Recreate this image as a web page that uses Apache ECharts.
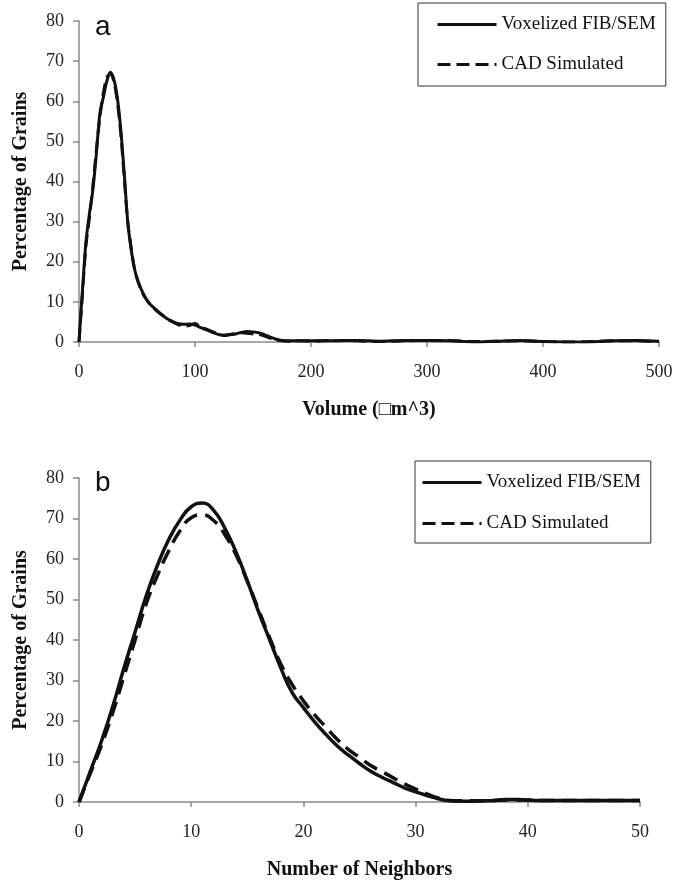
<!DOCTYPE html>
<html>
<head>
<meta charset="utf-8">
<script src="https://cdn.jsdelivr.net/npm/echarts@6/dist/echarts.min.js"></script>
<style>
    html, body { margin: 0; padding: 0; background: #fff; }
    #grains { width: 677px; height: 881px; }
</style>
</head>
<body>
<div id="grains"></div>
<script>
    // panel a: grain volume distribution
    var volX = [0, 3, 6, 9, 12, 15, 18, 21, 24, 27, 30, 33, 36, 39, 42, 45, 48, 51,
        55, 60, 65, 70, 75, 80, 85, 90, 95, 100, 105, 110, 115, 120, 125, 130, 135, 140,
        145, 150, 155, 160, 165, 170, 175, 180, 190, 200, 220, 240, 260, 280, 300, 320,
        340, 360, 380, 400, 420, 440, 460, 480, 500];
    var volFib = [0, 13, 25, 32, 38, 47, 57, 61, 65, 67.2, 65.5, 61, 53, 42, 30, 23, 18, 15,
        12.3, 9.8, 8.4, 7.2, 6, 5.2, 4.6, 4.4, 4.5, 4.2, 3.6, 3, 2.4, 1.9, 1.6, 1.8, 2.0, 2.4,
        2.6, 2.5, 2.3, 1.8, 1.2, 0.7, 0.4, 0.3, 0.3, 0.3, 0.3, 0.4, 0.2, 0.4, 0.4, 0.3,
        0, 0.2, 0.4, 0.1, 0, 0, 0.3, 0.4, 0.2];
    var volCad = [0, 12, 24, 31, 39, 48, 56, 62, 66, 66.8, 65, 60, 52, 41, 30, 23.5, 18, 15,
        12, 9.9, 8.3, 7, 6.1, 5.1, 4.4, 3.9, 4.1, 4.6, 3.7, 3.2, 2.6, 2.0, 1.7, 1.9, 2.1, 2.3,
        2.2, 2.0, 1.9, 1.5, 0.9, 0.5, 0.3, 0.2, 0.3, 0.2, 0.4, 0.3, 0.1, 0.3, 0.4, 0.4,
        0.1, 0.2, 0.3, 0.1, 0, 0.1, 0.3, 0.3, 0.1];

    // panel b: number of neighbors distribution
    var nbX = [0, 1, 2, 3, 4, 5, 6, 7, 8, 9, 10, 11, 12, 13, 14, 15, 16, 17, 18, 19, 20,
        21, 22, 23, 24, 25, 26, 27, 28, 29, 30, 31, 32, 33, 34, 35, 36, 37, 38, 39, 40,
        41, 42, 43, 44, 45, 46, 47, 48, 49, 50];
    var nbFib = [0, 7.5, 15, 23.5, 33, 42, 51, 58.5, 64.8, 69.6,
        72.9, 73.8, 72, 67.6, 61.7, 54.6, 47, 40, 33, 27,
        23.3, 19.8, 16.7, 13.9, 11.6, 9.5, 7.6, 6.1, 4.8, 3.5,
        2.5, 1.6, 0.8, 0.3, 0.2, 0.2, 0.3, 0.4, 0.6, 0.6,
        0.5, 0.4, 0.4, 0.4, 0.4, 0.4, 0.4, 0.4, 0.4, 0.4, 0.4];
    var nbCad = [0, 7, 14, 22, 31, 40, 49, 56, 62, 67,
        70.2, 70.9, 69.5, 66, 61, 54.5, 47.5, 40.5, 34, 29,
        25, 21.5, 18.5, 15.5, 13, 11, 9, 7.5, 6, 4.5,
        3.2, 2, 1, 0.4, 0.3, 0.3, 0.3, 0.4, 0.5, 0.5,
        0.5, 0.4, 0.4, 0.4, 0.4, 0.4, 0.4, 0.4, 0.4, 0.4, 0.4];

    var yTicks = [0, 80, 10];
    var volTicks = [0, 500, 100];
    var nbTicks = [0, 50, 10];

    var serif = "'Liberation Serif', 'Times New Roman', serif";

    function pairs(xs, ys) {
        return xs.map(function (x, i) { return [x, ys[i]]; });
    }

    function makeX(idx, ticks, name) {
        return {
            gridIndex: idx,
            type: 'value',
            min: ticks[0],
            max: ticks[1],
            interval: ticks[2],
            name: name,
            nameLocation: 'middle',
            nameGap: 58,
            nameTextStyle: {color: '#111', fontFamily: serif, fontSize: 20, fontWeight: 'bold'},
            axisLine: {lineStyle: {color: '#8a8a8a', width: 1.5}},
            axisTick: {show: true, length: 5, lineStyle: {color: '#8a8a8a', width: 1.5}},
            axisLabel: {color: '#222', fontFamily: serif, fontSize: 18, margin: 21},
            splitLine: {show: false}
        };
    }

    function makeY(idx) {
        return {
            gridIndex: idx,
            type: 'value',
            min: yTicks[0],
            max: yTicks[1],
            interval: yTicks[2],
            name: 'Percentage of Grains',
            nameLocation: 'middle',
            nameGap: 48,
            nameTextStyle: {color: '#111', fontFamily: serif, fontSize: 20, fontWeight: 'bold'},
            axisLine: {show: true, lineStyle: {color: '#8a8a8a', width: 1.5}},
            axisTick: {show: true, length: 6, lineStyle: {color: '#8a8a8a', width: 1.5}},
            axisLabel: {color: '#222', fontFamily: serif, fontSize: 18, margin: 15},
            splitLine: {show: false}
        };
    }

    function makeLegend(left, top, pad, gap) {
        return {
            orient: 'vertical',
            left: left,
            top: top,
            padding: pad,
            itemGap: gap,
            itemWidth: 59,
            itemHeight: 14,
            borderColor: '#333',
            borderWidth: 1,
            itemStyle: {opacity: 0},   // hide the dot, keep only the line sample
            lineStyle: {width: 3},
            textStyle: {color: '#111', fontFamily: serif, fontSize: 19},
            data: ['Voxelized FIB/SEM', 'CAD Simulated']
        };
    }

    var chart = echarts.init(document.getElementById('grains'));
    var option = {
        backgroundColor: '#fff',
        animation: false,
        title: [
            {text: 'a', left: 90, top: 8, textStyle: {fontFamily: "'Liberation Sans', Arial, sans-serif", fontSize: 28, fontWeight: 'normal', color: '#111'}},
            {text: 'b', left: 90, top: 464, textStyle: {fontFamily: "'Liberation Sans', Arial, sans-serif", fontSize: 28, fontWeight: 'normal', color: '#111'}}
        ],
        legend: [
            makeLegend(418, 3, [12, 10, 12, 18], 21),
            makeLegend(415, 461, [12, 10, 10, 6], 22)
        ],
        grid: [
            {left: 79, top: 21, width: 580, height: 321},
            {left: 79, top: 478, width: 561, height: 325}
        ],
        xAxis: [
            makeX(0, volTicks, 'Volume (\u25A1m^3)'),
            makeX(1, nbTicks, 'Number of Neighbors')
        ],
        yAxis: [makeY(0), makeY(1)],
        series: [
            {
                name: 'Voxelized FIB/SEM', type: 'line', xAxisIndex: 0, yAxisIndex: 0,
                data: pairs(volX, volFib), symbol: 'none', smooth: 0.3,
                lineStyle: {color: '#111', width: 3}, itemStyle: {color: '#111'}
            },
            {
                name: 'CAD Simulated', type: 'line', xAxisIndex: 0, yAxisIndex: 0,
                data: pairs(volX, volCad), symbol: 'none', smooth: 0.3,
                lineStyle: {color: '#111', width: 3, type: [13, 6]}, itemStyle: {color: '#111'}
            },
            {
                name: 'Voxelized FIB/SEM', type: 'line', xAxisIndex: 1, yAxisIndex: 1,
                data: pairs(nbX, nbFib), symbol: 'none', smooth: 0.5,
                lineStyle: {color: '#111', width: 3.5}, itemStyle: {color: '#111'}
            },
            {
                name: 'CAD Simulated', type: 'line', xAxisIndex: 1, yAxisIndex: 1,
                data: pairs(nbX, nbCad), symbol: 'none', smooth: 0.5,
                lineStyle: {color: '#111', width: 3.5, type: [15, 8]}, itemStyle: {color: '#111'}
            }
        ]
    };
    chart.setOption(option);
</script>
</body>
</html>
